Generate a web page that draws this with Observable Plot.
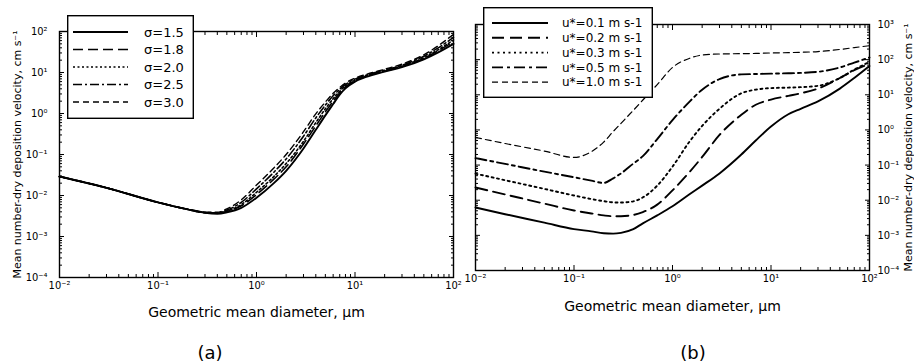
<!DOCTYPE html>
<html><head><meta charset="utf-8">
<script src="https://cdn.jsdelivr.net/npm/d3@7"></script>
<script src="https://cdn.jsdelivr.net/npm/@observablehq/plot@0.6"></script>
<style>
body{margin:0;background:#fff;font-family:"DejaVu Sans",sans-serif;}
#wrap{position:relative;width:914px;height:364px;overflow:hidden;background:#fff;}
.panel{position:absolute;top:0;}
.legend{position:absolute;}
.cap{position:absolute;font-size:18px;line-height:22px;transform:translateX(-50%);font-family:"DejaVu Sans",sans-serif;}
</style></head><body><div id="wrap"></div>
<script>
// ---------- Panel (a) data ----------
const diamA = [0.01,0.03,0.1,0.2,0.3,0.4,0.5,0.7,1,1.5,2,3,4,5,6,7,8,10,13,20,30,50,70,100];
const sigmaLabels = ["σ=1.5","σ=1.8","σ=2.0","σ=2.5","σ=3.0"];
const vSigma15 = [0.029,0.0154,0.0068,0.0046,0.0038,0.0036,0.0039,0.0050,0.0088,0.020,0.040,0.14,0.40,0.90,1.7,2.9,4.1,6.0,7.8,10.5,13.5,21,31,50];
const vSigma18 = [0.029,0.0154,0.0068,0.0046,0.0038,0.0037,0.0041,0.0056,0.0105,0.025,0.050,0.18,0.50,1.10,2.0,3.2,4.4,6.3,8.1,10.8,14,22,34,56];
const vSigma20 = [0.029,0.0154,0.0068,0.0046,0.0038,0.0037,0.0042,0.0060,0.012,0.029,0.060,0.21,0.60,1.3,2.3,3.5,4.7,6.5,8.3,11,14.5,23,36,62];
const vSigma25 = [0.029,0.0154,0.0068,0.0046,0.0039,0.0038,0.0044,0.0068,0.0145,0.037,0.078,0.28,0.78,1.6,2.7,3.9,5.1,6.9,8.6,11.5,15,25,40,72];
const vSigma30 = [0.029,0.0154,0.0068,0.0046,0.0039,0.0039,0.0047,0.0078,0.018,0.047,0.10,0.36,0.98,1.9,3.1,4.3,5.5,7.3,9.0,12,16,27,45,85];

// ---------- Panel (b) data ----------
const diamB = [0.01,0.02,0.05,0.1,0.15,0.2,0.25,0.3,0.4,0.5,0.7,1,1.5,2,3,5,7,10,15,20,30,50,70,100];
const uLabels = ["u*=0.1 m s-1","u*=0.2 m s-1","u*=0.3 m s-1","u*=0.5 m s-1","u*=1.0 m s-1"];
const vU01 = [0.0062,0.0040,0.0023,0.0015,0.0013,0.00115,0.00112,0.00118,0.0015,0.0022,0.0037,0.0067,0.015,0.026,0.058,0.2,0.5,1.25,2.8,4.0,6.5,15,30,66];
const vU02 = [0.023,0.0146,0.0080,0.0051,0.0042,0.0037,0.0035,0.0035,0.0038,0.0046,0.0075,0.019,0.065,0.17,0.72,2.7,5.2,7.3,9.3,11,15,30,50,76];
const vU03 = [0.057,0.037,0.021,0.0136,0.0108,0.0094,0.0087,0.0086,0.0093,0.012,0.026,0.09,0.48,1.3,4.0,11,14,15.5,16,16.5,18,30,52,86];
const vU05 = [0.158,0.108,0.065,0.045,0.036,0.031,0.042,0.058,0.11,0.18,0.55,1.9,6.5,14,28,38,39,40,41,42,45,60,82,115];
const vU10 = [0.61,0.41,0.25,0.165,0.24,0.45,0.9,1.54,3.6,7.1,19.5,60,110,135,145,148,150,155,158,162,170,195,220,250];

// ---------- axis tick values ----------
const xTicks = [0.01,0.1,1,10,100];
const yTicksA = [1e-4,1e-3,1e-2,1e-1,1,10,100];
const yTicksB = [1e-4,1e-3,1e-2,1e-1,1,10,100,1000];
const xLabel = "Geometric mean diameter, μm";
const yLabel = "Mean number-dry deposition velocity, cm s⁻¹";

const sup = {"-":"⁻","0":"⁰","1":"¹","2":"²","3":"³","4":"⁴","5":"⁵"};
const fmt = d => "10" + String(Math.round(Math.log10(d))).split("").map(c => sup[c]).join("");
const blank = () => "";
function minors(lo, hi){ const out=[]; for(let e=lo;e<hi;e++) for(let m=2;m<=9;m++) out.push(+(m*Math.pow(10,e)).toPrecision(3)); return out; }

const stylesA = [
  {dash:null, w:1.9},
  {dash:"10,5", w:1.6},
  {dash:"2,2.5", w:1.6},
  {dash:"9,3,2,3", w:1.6},
  {dash:"6,4", w:1.4}
];
const stylesB = [
  {dash:null, w:1.9},
  {dash:"12,6", w:1.9},
  {dash:"2,3.5", w:1.9},
  {dash:"11,4,3,4", w:1.9},
  {dash:"6,4", w:1.2}
];

const seriesA = [vSigma15,vSigma18,vSigma20,vSigma25,vSigma30];
const seriesB = [vU01,vU02,vU03,vU05,vU10];
const tableA = seriesA.flatMap((vs,i) => vs.map((v,j) => ({d: diamA[j], v, s: i})));
const tableB = seriesB.flatMap((vs,i) => vs.map((v,j) => ({d: diamB[j], v, s: i})));

const tickFont = "DejaVu Sans Condensed, DejaVu Sans, sans-serif";

function frameAxes(yTicks, yLo, yHi, yTextAnchor) {
  const xm = minors(-2, 2), ym = minors(yLo, yHi);
  return [
    Plot.axisX({anchor:"bottom", ticks:xTicks, tickSize:-5, tickPadding:9, tickFormat:fmt, label:null, fontSize:11, fontFamily:tickFont}),
    Plot.axisX({anchor:"bottom", ticks:xm, tickSize:-3, tickFormat:blank, label:null}),
    Plot.axisX({anchor:"top", ticks:xTicks, tickSize:-5, tickFormat:blank, label:null}),
    Plot.axisX({anchor:"top", ticks:xm, tickSize:-3, tickFormat:blank, label:null}),
    Plot.axisY({anchor:"left", ticks:yTicks, tickSize:-5, tickFormat: yTextAnchor==="left" ? fmt : blank, tickPadding: 17, label:null, fontSize:11, fontFamily:tickFont}),
    Plot.axisY({anchor:"left", ticks:ym, tickSize:-3, tickFormat:blank, label:null}),
    Plot.axisY({anchor:"right", ticks:yTicks, tickSize:-5, tickFormat: yTextAnchor==="right" ? fmt : blank, tickPadding: 13, label:null, fontSize:11, fontFamily:tickFont}),
    Plot.axisY({anchor:"right", ticks:ym, tickSize:-3, tickFormat:blank, label:null}),
    Plot.frame({stroke:"black", strokeWidth:1.4})
  ];
}

const commonStyle = {fontFamily:"DejaVu Sans", fontSize:"11px", background:"transparent", overflow:"visible", color:"black"};

const plotA = Plot.plot({
  width: 460, height: 330,
  marginLeft: 59, marginRight: 7, marginTop: 31, marginBottom: 53,
  x: {type:"log", domain:[0.01,100]},
  y: {type:"log", domain:[1e-4,100]},
  style: commonStyle,
  marks: [
    ...stylesA.map((st,i) => Plot.line(tableA.filter(r => r.s === i), {x:"d", y:"v", curve:"monotone-x", stroke:"black", strokeWidth: st.w, strokeDasharray: st.dash})),
    ...frameAxes(yTicksA, -4, 2, "left"),
    Plot.text([xLabel], {text: d => d, frameAnchor:"bottom", dy: 39, fontSize: 14, textAnchor:"middle"}),
    Plot.text([yLabel], {text: d => d, frameAnchor:"left", dx: -42, rotate: -90, fontSize: 11, textAnchor:"middle"})
  ]
});

const plotB = Plot.plot({
  width: 454, height: 330,
  marginLeft: 15, marginRight: 45, marginTop: 24, marginBottom: 60,
  x: {type:"log", domain:[0.01,100]},
  y: {type:"log", domain:[1e-4,1000]},
  style: commonStyle,
  marks: [
    ...stylesB.map((st,i) => Plot.line(tableB.filter(r => r.s === i), {x:"d", y:"v", curve:"monotone-x", stroke:"black", strokeWidth: st.w, strokeDasharray: st.dash})),
    ...frameAxes(yTicksB, -4, 3, "right"),
    Plot.text([xLabel], {text: d => d, frameAnchor:"bottom", dy: 40, fontSize: 14, textAnchor:"middle"}),
    Plot.text([yLabel], {text: d => d, frameAnchor:"right", dx: 39, rotate: -90, fontSize: 11, textAnchor:"middle"})
  ]
});

const wrap = document.getElementById("wrap");
plotA.classList.add("panel"); plotA.style.left = "0px";
plotB.classList.add("panel"); plotB.style.left = "460px";
wrap.appendChild(plotA);
wrap.appendChild(plotB);

function legend(labels, styles, opt) {
  const ns = "http://www.w3.org/2000/svg";
  const svg = document.createElementNS(ns, "svg");
  svg.setAttribute("width", opt.w); svg.setAttribute("height", opt.h);
  svg.classList.add("legend");
  svg.style.left = opt.x + "px"; svg.style.top = opt.y + "px";
  const bg = document.createElementNS(ns, "rect");
  bg.setAttribute("x", 0.7); bg.setAttribute("y", 0.7);
  bg.setAttribute("width", opt.w - 1.4); bg.setAttribute("height", opt.h - 1.4);
  bg.setAttribute("fill", "white"); bg.setAttribute("stroke", "black"); bg.setAttribute("stroke-width", 1.4);
  svg.appendChild(bg);
  labels.forEach((lab, i) => {
    const y = opt.y0 + i * opt.dy;
    const ln = document.createElementNS(ns, "line");
    ln.setAttribute("x1", opt.l1); ln.setAttribute("x2", opt.l2);
    ln.setAttribute("y1", y); ln.setAttribute("y2", y);
    ln.setAttribute("stroke", "black"); ln.setAttribute("stroke-width", styles[i].w);
    if (styles[i].dash) ln.setAttribute("stroke-dasharray", styles[i].dash);
    svg.appendChild(ln);
    const t = document.createElementNS(ns, "text");
    t.setAttribute("x", opt.tx); t.setAttribute("y", y);
    t.setAttribute("dy", "0.35em");
    t.setAttribute("font-family", "DejaVu Sans");
    t.setAttribute("font-size", opt.fs);
    t.textContent = lab;
    svg.appendChild(t);
  });
  wrap.appendChild(svg);
}
legend(sigmaLabels, stylesA, {x:67, y:15, w:127, h:104, y0:17, dy:17.5, l1:6, l2:61, tx:77, fs:13});
legend(uLabels, stylesB, {x:483, y:7, w:170, h:91, y0:16, dy:14.8, l1:9, l2:65, tx:79, fs:12});

function caption(txt, x, y) {
  const d = document.createElement("div");
  d.className = "cap"; d.textContent = txt;
  d.style.left = x + "px"; d.style.top = y + "px";
  wrap.appendChild(d);
}
caption("(a)", 210, 342);
caption("(b)", 693, 342);
</script></body></html>
